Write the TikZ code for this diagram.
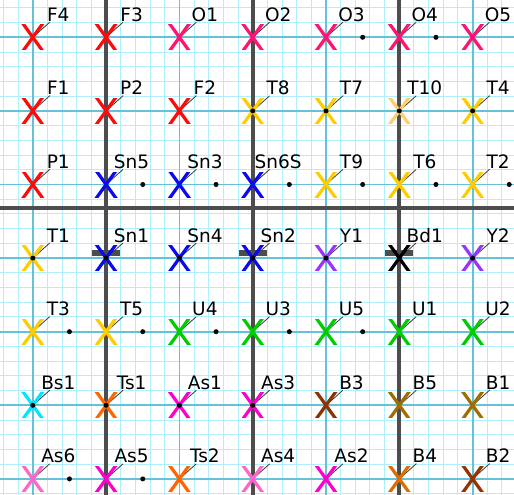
\documentclass[tikz,border=0pt]{standalone}
\usepackage{fontspec}
\setmainfont{DejaVu Sans}
\definecolor{cF}{RGB}{255,10,10}
\definecolor{cO}{RGB}{255,20,115}
\definecolor{cT}{RGB}{255,204,0}
\definecolor{cTl}{RGB}{255,204,110}
\definecolor{cSn}{RGB}{10,10,240}
\definecolor{cY}{RGB}{153,51,255}
\definecolor{cBd}{RGB}{0,0,0}
\definecolor{cU}{RGB}{0,204,0}
\definecolor{cBs}{RGB}{0,230,255}
\definecolor{cTs}{RGB}{255,102,0}
\definecolor{cAs}{RGB}{255,0,204}
\definecolor{cAsl}{RGB}{255,102,204}
\definecolor{cBiii}{RGB}{140,51,5}
\definecolor{cBv}{RGB}{160,110,0}
\definecolor{cBiv}{RGB}{220,110,0}
\definecolor{cBii}{RGB}{150,51,0}
\definecolor{cMaj}{RGB}{102,192,216}
\definecolor{cFine}{RGB}{175,240,252}
\definecolor{cDark}{RGB}{77,77,77}
\definecolor{cLead}{RGB}{60,60,60}
\def\pts{1/1/F4/cF/0, 2/1/F3/cF/0, 3/1/O1/cO/0, 4/1/O2/cO/0, 5/1/O3/cO/0, 6/1/O4/cO/0, 7/1/O5/cO/0,
1/2/F1/cF/0, 2/2/P2/cF/0, 3/2/F2/cF/0, 4/2/T8/cT/1, 5/2/T7/cT/1, 6/2/T10/cTl/1, 7/2/T4/cT/1,
1/3/P1/cF/0, 2/3/Sn5/cSn/0, 3/3/Sn3/cSn/0, 4/3/Sn6S/cSn/0, 5/3/T9/cT/0, 6/3/T6/cT/0, 7/3/T2/cT/0,
1/4/T1/cT/1, 2/4/Sn1/cSn/1, 3/4/Sn4/cSn/1, 4/4/Sn2/cSn/1, 5/4/Y1/cY/1, 6/4/Bd1/cBd/1, 7/4/Y2/cY/1,
1/5/T3/cT/0, 2/5/T5/cT/0, 3/5/U4/cU/0, 4/5/U3/cU/0, 5/5/U5/cU/0, 6/5/U1/cU/0, 7/5/U2/cU/0,
1/6/Bs1/cBs/1, 2/6/Ts1/cTs/1, 3/6/As1/cAs/1, 4/6/As3/cAs/1, 5/6/B3/cBiii/0, 6/6/B5/cBv/0, 7/6/B1/cBv/0,
1/7/As6/cAsl/0, 2/7/As5/cAs/0, 3/7/Ts2/cTs/0, 4/7/As4/cAsl/0, 5/7/As2/cAs/0, 6/7/B4/cBiv/0, 7/7/B2/cBii/0}
\begin{document}
\begin{tikzpicture}[x=1pt,y=-1pt,
  fine/.style={draw=cFine, line width=1},
  major/.style={draw=cMaj, line width=1.8},
  darkline/.style={draw=cDark, line width=4},
  lab/.style={font=\fontsize{18.5}{19}\selectfont, inner sep=0.5pt, anchor=base, text=black},
  leader/.style={draw=cLead, line width=0.8},
  dotnode/.style={fill=black, circle, inner sep=0pt, minimum size=5pt},
  barbox/.style={fill=cDark},
  xmark/.pic={
    \begin{scope}
      \clip (-13,-12.5) rectangle (13,12.5);
      \draw[line width=3.2] (-10.8,-15) -- (10.8,15) (-10.8,15) -- (10.8,-15);
    \end{scope}
  }]
\useasboundingbox (0,0) rectangle (514,495);
\fill[white] (0,0) rectangle (514,495);
% fine grid
\foreach \k in {-2,...,32} \draw[fine] ({32.8+14.66*\k},0) -- ({32.8+14.66*\k},495);
\foreach \k in {-2,...,31} \draw[fine] (0,{37.3+14.72*\k}) -- (514,{37.3+14.72*\k});
% major grid
\foreach \k in {0,...,6} {
  \draw[major] ({32.8+73.3*\k},0) -- ({32.8+73.3*\k},495);
  \draw[major] (0,{37.3+73.6*\k}) -- (514,{37.3+73.6*\k});
}
% dark lines
\foreach \k in {1,3,5} \draw[darkline] ({32.8+73.3*\k},0) -- ({32.8+73.3*\k},495);
\draw[darkline] (0,208) -- (514,208);
% points
\foreach \c/\r/\nm/\col/\d in \pts
  \coordinate (P\nm) at ({32.8+73.3*(\c-1)},{37.3+73.6*(\r-1)});
% bars
\foreach \nm in {Sn1,Sn2,Bd1}
  \fill[barbox] ([shift={(-14,-8)}]P\nm) rectangle ([shift={(14,-2)}]P\nm);
% labels and leaders
\foreach \c/\r/\nm/\col/\d in \pts {
  \node[lab] (L\nm) at ([shift={(25.5,-16)}]P\nm) {\nm};
  \draw[leader] (P\nm) -- (L\nm);
}
% crosses
\foreach \c/\r/\nm/\col/\d in \pts
  \pic[color=\col] at (P\nm) {xmark};
% dots on points
\foreach \c/\r/\nm/\col/\d in \pts {
  \ifnum\d=1 \node[dotnode] (D\nm) at (P\nm) {}; \fi
}
% midpoint dots
\foreach \c/\r in {5/1,6/1, 2/3,3/3,4/3,5/3,6/3,7/3, 1/5,2/5,3/5,4/5,5/5, 1/7,2/7}
  \node[dotnode] (M\c-\r) at ({32.8+73.3*(\c-0.5)},{37.3+73.6*(\r-1)}) {};
\end{tikzpicture}
\end{document}
